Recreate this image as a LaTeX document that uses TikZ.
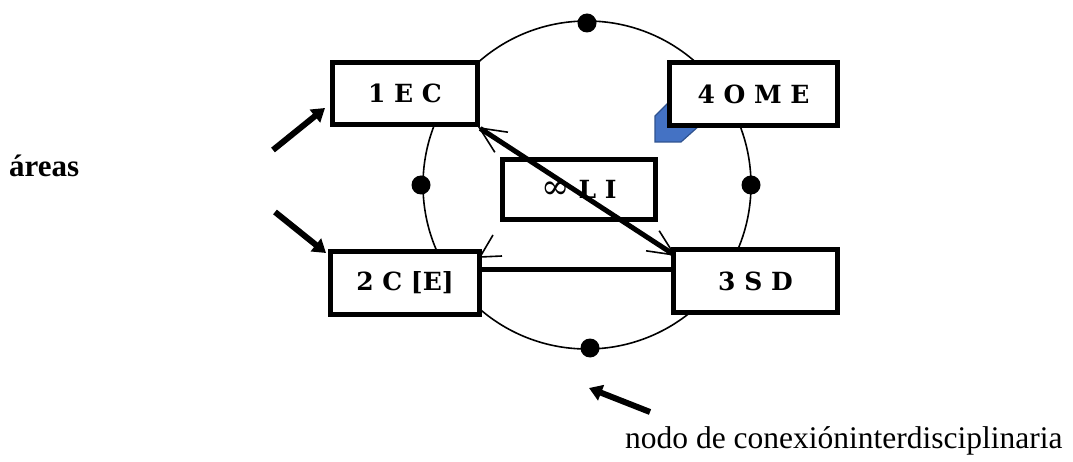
\documentclass[tikz,border=0pt]{standalone}
\usepackage{fontspec}
\setmainfont{Liberation Serif}
\newfontfamily\boxfont{DejaVu Serif}
\usetikzlibrary{arrows.meta}
\definecolor{shapeblue}{HTML}{4472C4}
\definecolor{shapeedge}{HTML}{2F528F}
\begin{document}
\begin{tikzpicture}[x=1pt,y=-1pt,
  areabox/.style={draw, line width=5pt, fill=white, inner sep=0pt,
    font=\boxfont\bfseries\fontsize{25pt}{28pt}\selectfont},
  ringdot/.style={circle, fill=black, minimum size=19pt, inner sep=0pt},
  fatarrow/.style={line width=6pt, -{Triangle[length=13pt,width=16pt]}},
  linkline/.style={line width=5pt},
  barbs/.style={line width=5pt,
    {Straight Barb[length=26pt,width=24pt,line width=1.6pt]}-{Straight Barb[length=26pt,width=24pt,line width=1.6pt]}},
  thinbarb/.style={line width=1.6pt},
  plainlabel/.style={inner sep=0pt, anchor=base west}]
\useasboundingbox (0,0) rectangle (1073,462);
\fill[white] (0,0) rectangle (1073,462);

% ring with its four nodes
\node[draw, circle, line width=1.6pt, minimum size=328pt, inner sep=0pt] (ring) at (587,185) {};
\node[ringdot] (dtop) at (587,23) {};
\node[ringdot] (dleft) at (421,185) {};
\node[ringdot] (dright) at (751,185) {};
\node[ringdot] (dbot) at (590,348) {};

% blue shape behind box 4
\filldraw[fill=shapeblue, draw=shapeedge, line width=1.2pt]
  (655,116) -- (672,99) -- (700,99) -- (700,125) -- (681,142) -- (655,142) -- cycle;

% boxes
\node[areabox, minimum width=145pt, minimum height=62pt] (n1) at (405,93.5) {1 E C};
\node[areabox, minimum width=168pt, minimum height=63pt] (n4) at (753.5,94) {4 O M E};
\node[areabox, minimum width=149pt, minimum height=63pt] (n2) at (405,283) {2 C [E]};
\node[areabox, minimum width=164pt, minimum height=63pt] (n3) at (755.5,281) {3 S D};
\node[areabox, minimum width=153pt, minimum height=60pt] (n0) at (579,189.5) {{\mdseries\fontsize{34pt}{34pt}\selectfont ∞} L I};

% connectors between boxes
\coordinate (hline) at (0,270);
\draw[linkline] (n2.east |- hline) -- (n3.west |- hline);
\draw[barbs] ([xshift=-2pt]n1.south east) -- ([xshift=5pt,yshift=-9pt]n3.north west);
\draw[thinbarb] ([xshift=11pt,yshift=14pt]n2.north east) -- ([xshift=-2pt,yshift=-8pt]n2.north east)
  -- ([xshift=20pt,yshift=-7pt]n2.north east);

% pointer arrows
\coordinate (t1) at (273,150);
\coordinate (t2) at (275,212);
\coordinate (t3) at (650,412);
\draw[fatarrow] (t1) -- ([xshift=-5pt,yshift=-14.5pt]n1.west);
\draw[fatarrow] (t2) -- ([xshift=-2pt,yshift=-4pt]n2.north west);
\draw[fatarrow] (t3) -- ([xshift=-1pt,yshift=-40pt]dbot.center);

% labels
\node[plainlabel, font=\bfseries\fontsize{31pt}{36pt}\selectfont] (lareas) at (9,177) {áreas};
\node[plainlabel, font=\fontsize{31.5pt}{36pt}\selectfont] (lnodo) at (625,448) {nodo de conexióninterdisciplinaria};
\end{tikzpicture}
\end{document}
